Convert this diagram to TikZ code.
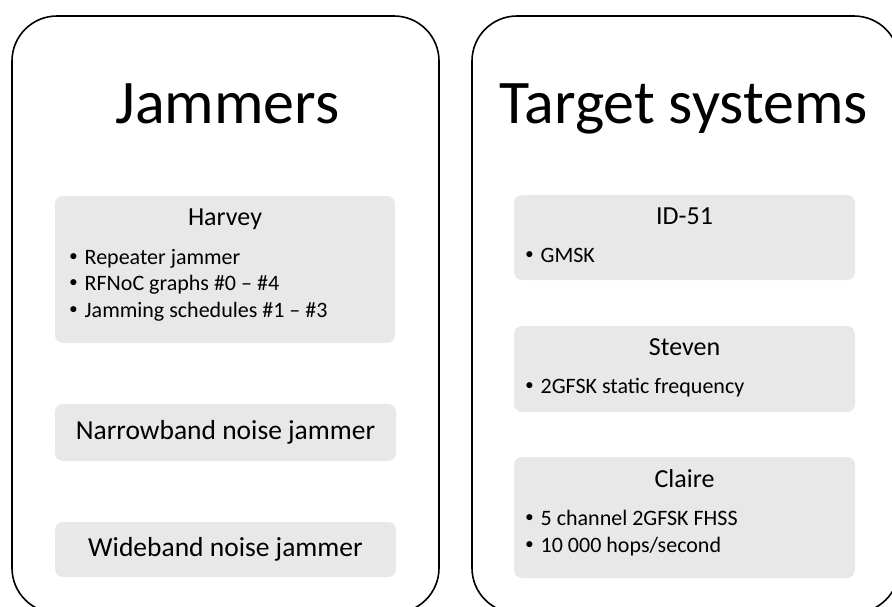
\documentclass[tikz,border=0pt]{standalone}
\usepackage{fontspec}
\setmainfont{Carlito}
\definecolor{boxgray}{HTML}{E8E8E8}
\tikzset{
  outerbox/.style={draw=black, line width=1.6pt, rounded corners=45pt},
  graybox/.style={fill=boxgray, rounded corners=8pt},
  bigtitle/.style={anchor=base, inner sep=0pt, font=\fontsize{62}{70}\selectfont},
  boxtitle/.style={anchor=base, inner sep=0pt, font=\fontsize{26}{31}\selectfont},
  plaintext/.style={anchor=center, inner sep=0pt, font=\fontsize{27.5}{33}\selectfont},
  bulletline/.style={anchor=base west, inner sep=0pt, font=\fontsize{22}{26}\selectfont}
}
\newcommand{\bul}{\makebox[15pt][l]{\raisebox{0.17em}{\scalebox{0.75}{$\bullet$}}}}
\begin{document}
\begin{tikzpicture}[x=1pt,y=-1pt]
\useasboundingbox (0,0) rectangle (892,606);
\fill[white] (0,0) rectangle (892,606);
\begin{scope}
\clip (0,0) rectangle (892,606);
\draw[outerbox] (12,16) rectangle (439,613);
\draw[outerbox] (472,16) rectangle (899,613);
\end{scope}

\node[bigtitle] (jam) at (227.5,123) {Jammers};
\node[bigtitle] (tgt) at (683.5,123) {Target systems};

% left column
\fill[graybox] (55,196) rectangle (395,343);
\node[boxtitle] (harvey) at (225,225) {Harvey};
\node[bulletline] (hb1) at (69.5,264) {\bul Repeater jammer};
\node[bulletline] (hb2) at (69.5,290.7) {\bul RFNoC graphs \#0 -- \#4};
\node[bulletline] (hb3) at (69.5,317.4) {\bul Jamming schedules \#1 -- \#3};

\fill[graybox] (55,404) rectangle (396,461);
\node[plaintext] (narrow) at (225.5,432.5) {Narrowband noise jammer};

\fill[graybox] (55,522) rectangle (396,577);
\node[plaintext] (wide) at (225.5,549.5) {Wideband noise jammer};

% right column
\fill[graybox] (514,195) rectangle (855,280);
\node[boxtitle] (id51) at (684.5,224) {ID-51};
\node[bulletline] (ib1) at (525.5,262) {\bul GMSK};

\fill[graybox] (514,326) rectangle (855,412);
\node[boxtitle] (steven) at (684.5,355) {Steven};
\node[bulletline] (sb1) at (525.5,393) {\bul 2GFSK static frequency};

\fill[graybox] (514,457) rectangle (855,578);
\node[boxtitle] (claire) at (684.5,487) {Claire};
\node[bulletline] (cb1) at (525.5,525) {\bul 5 channel 2GFSK FHSS};
\node[bulletline] (cb2) at (525.5,552.5) {\bul 10 000 hops/second};
\end{tikzpicture}
\end{document}
